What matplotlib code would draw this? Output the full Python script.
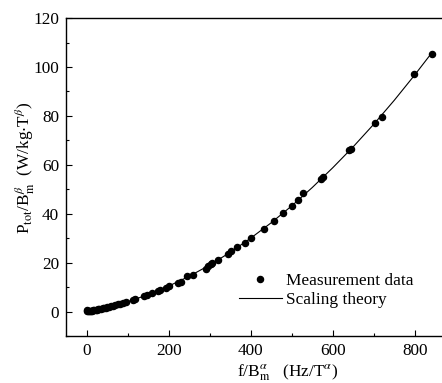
import numpy as np
import matplotlib
matplotlib.use('Agg')
import matplotlib.pyplot as plt
from matplotlib.ticker import MultipleLocator

plt.rcParams['font.family'] = 'Liberation Serif'
plt.rcParams['mathtext.fontset'] = 'stix'
plt.rcParams['font.size'] = 12.4

meas_x = [0, 2, 4, 6, 8, 10, 13, 16, 19, 22, 25, 28, 31, 35, 39, 43, 47, 51,
          55, 60, 65, 70, 76, 82, 88, 97, 113, 119, 139, 148, 159, 174, 180,
          193, 201, 222, 231, 245, 259, 290, 296, 304, 307, 320, 346, 352,
          367, 387, 401, 432, 457, 480, 500, 516, 528, 572, 577, 640, 645,
          703, 721, 797, 841]
meas_y = [0.1, 0.6, 0.2, 0.25, 0.3, 0.35, 0.4, 0.5, 0.6, 0.7, 0.8, 0.9,
          1.0, 1.1, 1.25, 1.4, 1.55, 1.7, 1.85, 2.1, 2.3, 2.55, 2.9, 3.2,
          3.5, 3.9, 4.9, 5.3, 6.3, 6.7, 7.6, 8.4, 9.0, 9.8, 10.4, 11.7,
          12.1, 14.4, 14.9, 17.6, 18.6, 19.6, 19.8, 21.2, 23.7, 24.6, 26.3,
          28.2, 30.0, 33.8, 37.1, 40.3, 43.0, 45.5, 48.5, 54.2, 55.0, 65.9,
          66.6, 77.2, 79.5, 97.1, 105.3]

# scaling theory curve
theory_x = [0, 50, 100, 150, 200, 250, 300, 350, 400, 450, 500, 550, 600,
            650, 700, 750, 800, 840]
theory_y = [0.0, 1.7, 4.0, 6.9, 10.4, 14.4, 19.0, 24.2, 30.0, 36.3, 43.2,
            50.7, 58.8, 67.4, 76.6, 86.4, 96.8, 105.5]

fig = plt.figure(figsize=(4.42, 3.83), dpi=100)
ax = fig.add_axes([0.1493, 0.1227, 0.882, 0.830])

ax.plot(theory_x, theory_y, 'k-', lw=0.8, label='Scaling theory')
ax.plot(meas_x, meas_y, 'ko', ms=4.4, ls='none', label='Measurement data')

ax.set_xlim(-50, 900)
ax.set_ylim(-10, 120)
ax.xaxis.set_major_locator(MultipleLocator(200))
ax.xaxis.set_minor_locator(MultipleLocator(100))
ax.yaxis.set_major_locator(MultipleLocator(20))
ax.yaxis.set_minor_locator(MultipleLocator(10))
ax.tick_params(which='both', direction='in', top=False, right=False)
ax.tick_params(which='major', length=4, width=0.8, pad=5)
ax.tick_params(which='minor', length=2.5, width=0.8)
for s in ax.spines.values():
    s.set_linewidth(1.0)
ax.spines['right'].set_visible(False)

ax.set_xlabel(r'f/B$_{\rm m}^{\alpha}$   (Hz/T$^{\alpha}$)')
ax.xaxis.set_label_coords(0.5695, -0.082)
ax.set_ylabel(r'P$_{\rm tot}$/B$_{\rm m}^{\beta}$  (W/kg$\cdot$T$^{\beta}$)')
ax.yaxis.set_label_coords(-0.074, 0.53)

h, l = ax.get_legend_handles_labels()
ax.legend(h[::-1], l[::-1], loc='lower left', bbox_to_anchor=(0.425, 0.066),
          frameon=False, handlelength=2.5, handletextpad=0.25,
          labelspacing=0.2, borderaxespad=0)

plt.savefig('out.png', dpi=100)
